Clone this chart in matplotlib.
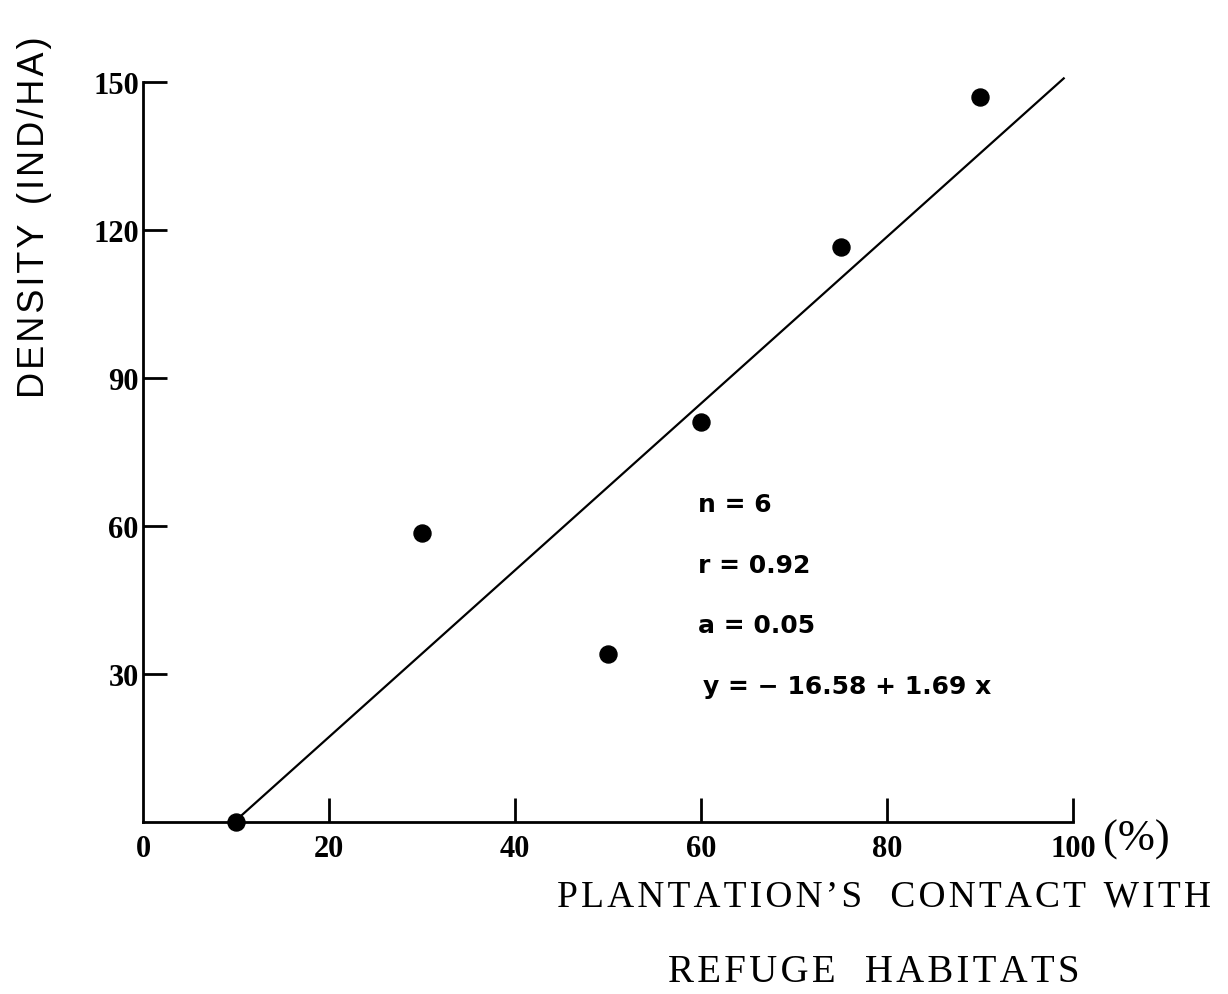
import matplotlib
matplotlib.use("Agg")
import matplotlib.pyplot as plt
import numpy as np

# ── DATA ──────────────────────────────────────────────────────────────────────
contact_pct = [10, 30, 50, 60, 75, 90]          # plantation's contact (%)
density = [0, 58.5, 34, 81, 116.5, 147]         # ind/ha

fit_intercept = -16.58
fit_slope = 1.69
fit_x = np.array([10, 99])

x_ticks = [0, 20, 40, 60, 80, 100]
y_ticks = [30, 60, 90, 120, 150]

stats_lines = ["n = 6", "r = 0.92", "a = 0.05", "y = \u2212 16.58 + 1.69 x"]
stats_y = [64.5, 52, 40, 27.5]
stats_x = [59.7, 59.7, 59.7, 60.2]

# ── STYLE ─────────────────────────────────────────────────────────────────────
SERIF = ["Liberation Serif", "DejaVu Serif"]
SANS = ["Liberation Sans", "DejaVu Sans"]
STATS_FONT = "DejaVu Sans"
HAIR = "\u200a"


def spaced(s):
    # slight letter spacing, like the typeset original
    return " ".join(HAIR.join(w) for w in s.split(" "))


fig = plt.figure(figsize=(12.28, 9.95), dpi=100)
ax = fig.add_axes([0.1164, 0.1729, 0.7574, 0.7437])

ax.scatter(contact_pct, density, s=150, color="black", zorder=4, clip_on=False)
ax.plot(fit_x, fit_intercept + fit_slope * fit_x, color="black", lw=1.6,
        clip_on=False, zorder=3)

ax.set_xlim(0, 100)
ax.set_ylim(0, 150)

for side in ("top", "right"):
    ax.spines[side].set_visible(False)
for side in ("left", "bottom"):
    ax.spines[side].set_linewidth(2.0)

ax.set_xticks(x_ticks)
ax.set_xticklabels([str(v) for v in x_ticks], fontfamily=SERIF,
                   fontweight="bold", fontsize=22)
ax.set_yticks(y_ticks)
ax.set_yticklabels([str(v) for v in y_ticks], fontfamily=SERIF,
                   fontweight="bold", fontsize=22)
ax.tick_params(axis="both", direction="in", length=17, width=2.0)
ax.tick_params(axis="x", pad=9)
ax.tick_params(axis="y", pad=3)
ax.xaxis.get_major_ticks()[0].tick1line.set_visible(False)

# "(%)" after the 100 label
ax.text(103.2, -3.5, "(%)", transform=ax.transData, fontfamily=SERIF,
        fontsize=32, ha="left", va="center")

# stats block
for txt, xx, yy in zip(stats_lines, stats_x, stats_y):
    ax.text(xx, yy, txt, fontfamily=STATS_FONT, fontweight="bold",
            fontsize=18, ha="left", va="center")

# axis labels
fig.text(0.720, 0.0985, spaced("PLANTATION\u2019S   CONTACT  WITH"),
         fontfamily=SERIF, fontsize=27, ha="center", va="center")
fig.text(0.7117, 0.0231, spaced("REFUGE   HABITATS"),
         fontfamily=SERIF, fontsize=28, ha="center", va="center")
fig.text(0.0285, 0.782, spaced("DENSITY  (IND/HA)"),
         fontfamily=SANS, fontsize=26, rotation=90, ha="center", va="center")

fig.savefig("out.png", dpi=100)
